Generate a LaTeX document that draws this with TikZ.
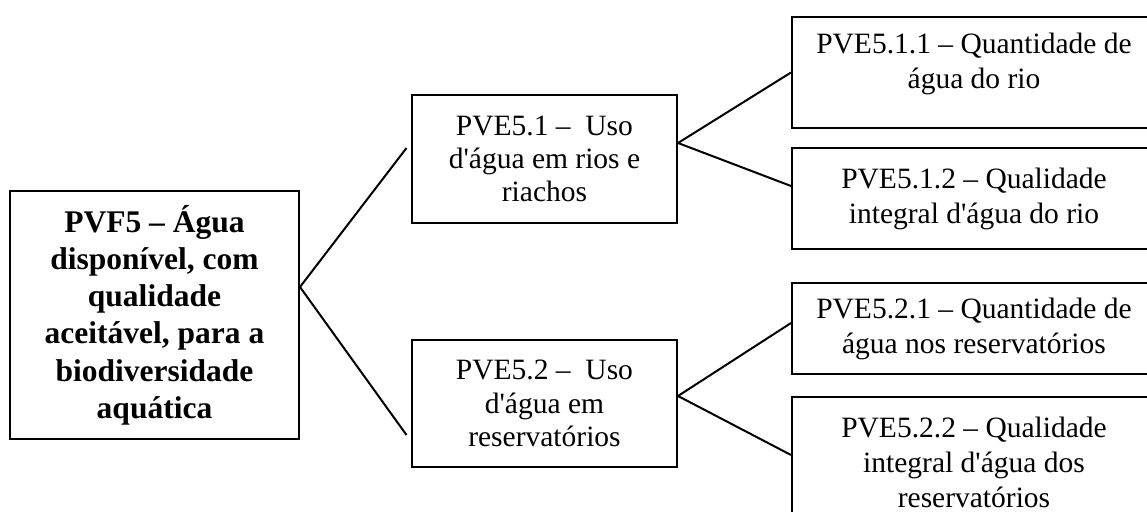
\documentclass[tikz,border=0pt]{standalone}
\usepackage{fontspec}
\setmainfont{Liberation Serif}
\usepackage{tikz}
\usetikzlibrary{positioning}
\newcommand{\apos}{\textquotesingle}

\begin{document}
\begin{tikzpicture}[
  x=0.4pt,y=-0.4pt,
  rootbox/.style={draw,line width=0.8pt,minimum width=115.6pt,minimum height=99.2pt,align=center,font=\bfseries\fontsize{12.6}{14.9}\selectfont},
  midbox/.style={draw,line width=0.8pt,minimum width=106pt,align=center,font=\fontsize{11.8}{13.3}\selectfont},
  leafbox/.style={draw,line width=0.8pt,minimum width=145.6pt,align=center,font=\fontsize{11.8}{14}\selectfont},
  link/.style={line width=0.8pt}
]
\useasboundingbox (0,0) rectangle (1147,512);
\node[rootbox] (pvf) at (154.5,315) {PVF5 – Água\\disponível, com\\qualidade\\aceitável, para a\\biodiversidade\\aquática};
\node[midbox,minimum height=51.2pt] (m1) at (544.5,159) {PVE5.1 –~ Uso\\d\apos água em rios e\\riachos};
\node[midbox,minimum height=50.8pt] (m2) at (544.5,403.5) {PVE5.2 –~ Uso\\d\apos água em\\reservatórios};
\node[leafbox,minimum height=44.4pt] (r11) at (974,72.5) {PVE5.1.1 – Quantidade de\\água do rio\\[-4.5pt]\mbox{}};
\node[leafbox,minimum height=40.4pt] (r12) at (974,198.5) {PVE5.1.2 – Qualidade\\integral d\apos água do rio};
\node[leafbox,minimum height=36.4pt] (r21) at (974,328.5) {PVE5.2.1 – Quantidade de\\água nos reservatórios};
\node[leafbox,minimum height=52.4pt] (r22) at (974,462.5) {PVE5.2.2 – Qualidade\\integral d\apos água dos\\reservatórios};
% ligacoes
\draw[link] ([yshift=11.2pt]pvf.east) -- ([xshift=-1.8pt,yshift=4.4pt]m1.west);
\draw[link] ([yshift=11.2pt]pvf.east) -- ([xshift=-1.8pt,yshift=-12.6pt]m2.west);
\draw[link] ([yshift=6.4pt]m1.east) -- (r11.west);
\draw[link] ([yshift=6.4pt]m1.east) -- ([yshift=5pt]r12.west);
\draw[link] ([yshift=3pt]m2.east) -- ([yshift=2.2pt]r21.west);
\draw[link] ([yshift=3pt]m2.east) -- ([yshift=3pt]r22.west);
\end{tikzpicture}
\end{document}
